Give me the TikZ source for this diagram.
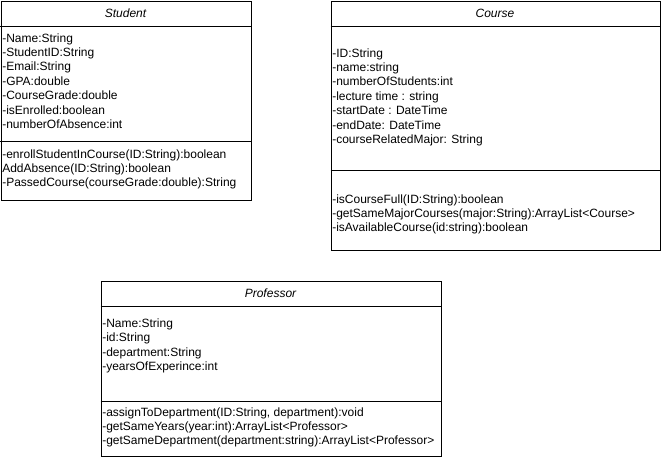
\documentclass[tikz,border=0pt]{standalone}
\usepackage{fontspec}
\setmainfont{Liberation Sans}

\begin{document}
\begin{tikzpicture}[x=0.75pt,y=-0.75pt,
	classbox/.style={draw,line width=0.75pt,anchor=north west,inner sep=0pt},
	classname/.style={font=\itshape\fontsize{9}{10.8}\selectfont,anchor=base,inner sep=0pt},
	member/.style={font=\fontsize{9}{10.8}\selectfont,anchor=base west,inner sep=0pt},
	sepline/.style={line width=0.75pt}]
	\useasboundingbox (0,0) rectangle (661,461);
	
	%classe Student
	\node (student) at(0.5, 0.5) [classbox,minimum width=187.5pt,minimum height=149.6pt] {} ;
	\node (student name) at(125.5, 17.5) [classname] {Student} ;
	\draw[sepline] (student.west |- 0,26) -- (student.east |- 0,26);
	\draw[sepline] (student.west |- 0,141) -- (student.east |- 0,141);
	\foreach \attr [count=\i from 0] in {-Name:String,-StudentID:String,-Email:String,-GPA:double,-CourseGrade:double,-isEnrolled:boolean,-numberOfAbsence:int}
		\node (student attr \i) at(2, 42+14.4*\i) [member] {\attr} ;
	\foreach \meth [count=\i from 0] in {-enrollStudentInCourse(ID:String):boolean,AddAbsence(ID:String):boolean,-PassedCourse(courseGrade:double):String}
		\node (student meth \i) at(2, 158+14.4*\i) [member] {\meth} ;
	
	%classe Course
	\node (course) at(330.5, 0.5) [classbox,minimum width=246.75pt,minimum height=187.1pt] {} ;
	\node (course name) at(495, 17.5) [classname] {Course} ;
	\draw[sepline] (course.west |- 0,26) -- (course.east |- 0,26);
	\draw[sepline] (course.west |- 0,170) -- (course.east |- 0,170);
	\foreach \attr [count=\i from 0] in {-ID:String,-name:string,-numberOfStudents:int,-lecture time : string,-startDate : DateTime,-endDate: DateTime,-courseRelatedMajor: String}
		\node (course attr \i) at(332, 57+14.4*\i) [member] {\attr} ;
	\foreach \meth [count=\i from 0] in {-isCourseFull(ID:String):boolean,-getSameMajorCourses(major:String):ArrayList<Course>,-isAvailableCourse(id:string):boolean}
		\node (course meth \i) at(332, 203+14.4*\i) [member] {\meth} ;
	
	%classe Professor
	\node (professor) at(100.5, 281) [classbox,minimum width=255pt,minimum height=131.25pt] {} ;
	\node (professor name) at(270.5, 297.5) [classname] {Professor} ;
	\draw[sepline] (professor.west |- 0,306) -- (professor.east |- 0,306);
	\draw[sepline] (professor.west |- 0,401) -- (professor.east |- 0,401);
	\foreach \attr [count=\i from 0] in {-Name:String,-id:String,-department:String,-yearsOfExperince:int}
		\node (professor attr \i) at(102, 327.5+14.4*\i) [member] {\attr} ;
	\foreach \meth [count=\i from 0] in {{-assignToDepartment(ID:String, department):void},-getSameYears(year:int):ArrayList<Professor>,-getSameDepartment(department:string):ArrayList<Professor>}
		\node (professor meth \i) at(102, 416+14.4*\i) [member] {\meth} ;
\end{tikzpicture}
\end{document}
